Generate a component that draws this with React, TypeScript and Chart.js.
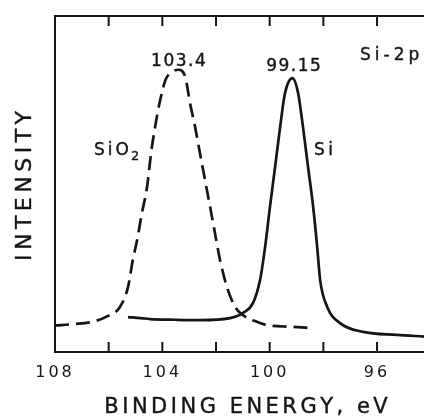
import { useEffect, useRef } from 'react';
import { Chart, registerables } from 'chart.js';

Chart.register(...registerables);

// Si-2p photoelectron spectrum: oxide (dashed) and elemental silicon (solid)
const siO2Energy = [108.0, 107.3, 106.6, 106.06, 105.58, 105.28, 105.1, 104.94, 104.76, 104.57, 104.42, 104.27, 104.08, 103.88, 103.65, 103.4, 103.15, 102.97, 102.78, 102.6, 102.41, 102.22, 102.04, 101.85, 101.59, 101.29, 101.0, 100.55, 100.1, 99.2, 98.38];
const siO2Intensity = [7.9, 8.3, 9.0, 10.6, 13.4, 19.3, 27.4, 33.3, 41.4, 49.1, 59.2, 67, 75, 81, 83.3, 84, 82, 74.1, 67, 59.2, 51.2, 43.2, 35.4, 27.4, 19.3, 13.4, 11.0, 9.2, 8.0, 7.5, 7.1];

const siEnergy = [105.28, 104.8, 104.46, 103.5, 102.6, 101.48, 101.0, 100.62, 100.36, 100.17, 99.99, 99.8, 99.61, 99.43, 99.15, 98.94, 98.76, 98.57, 98.38, 98.23, 98.12, 97.86, 97.38, 96.52, 95.25, 94.25];
const siIntensity = [10.4, 10.1, 9.8, 9.6, 9.5, 10.1, 11.6, 14.6, 21.4, 31.3, 43.2, 55, 67, 77, 81.5, 77, 67, 55, 43.2, 31.3, 21.4, 13.5, 8.6, 6.0, 5.1, 4.6];

const siO2Peak = 103.4;
const siPeak = 99.15;

const xTickValues = [108, 106, 104, 102, 100, 98, 96];
const xTickLabels = ['108', '', '104', '', '100', '', '96'];
const baselineMark = 8;

const xTitle = 'BINDING ENERGY, eV';
const yTitle = 'INTENSITY';
const coreLevel = 'Si-2p';
const siO2Name = 'SiO';
const siO2Sub = '2';
const siName = 'Si';

const INK = '#151515';
const FONT = '"DejaVu Sans", "Noto Sans", sans-serif';

function drawSpaced(
  ctx: CanvasRenderingContext2D,
  text: string,
  x: number,
  baseline: number,
  size: number,
  spacing: number,
  align: 'left' | 'center'
): number {
  ctx.font = `${size}px ${FONT}`;
  const chars = [...text];
  const widths = chars.map((c) => ctx.measureText(c).width);
  const total = widths.reduce((a, b) => a + b, 0) + spacing * (chars.length - 1);
  let cx = align === 'center' ? x - total / 2 : x;
  ctx.textAlign = 'left';
  ctx.textBaseline = 'alphabetic';
  chars.forEach((c, i) => {
    ctx.fillText(c, cx, baseline);
    ctx.strokeText(c, cx, baseline);
    cx += widths[i] + spacing;
  });
  return cx;
}

// baseline that puts the middle of capital letters at y
const capMid = (y: number, size: number) => y + size * 0.365;

const frameAndTicks = {
  id: 'frameAndTicks',
  afterDraw(chart: any) {
    const ctx = chart.ctx;
    const x = chart.scales.x;
    const y = chart.scales.y;
    const { left, top, right, bottom } = chart.chartArea;
    ctx.save();
    ctx.fillStyle = INK;
    // inward tick marks on top and bottom edges
    for (let i = 1; i < xTickValues.length; i++) {
      const px = x.getPixelForValue(xTickValues[i]);
      ctx.fillRect(px - 1, bottom - 10, 2, 10);
      ctx.fillRect(px - 1, top, 2, 10);
    }
    // zero-level mark on the intensity axis
    const py = y.getPixelForValue(baselineMark);
    ctx.fillRect(left, py - 1, 7, 2);
    // frame, open on the right
    ctx.fillRect(left - 1, top - 1, right - left + 3, 2);
    ctx.fillRect(left - 1, top - 1, 2, bottom - top + 2);
    ctx.fillRect(left - 1, bottom - 1, right - left + 3, 2);
    ctx.restore();
  },
};

const labels = {
  id: 'labels',
  beforeDraw(chart: any) {
    chart.ctx.letterSpacing = '3px';
  },
  afterDraw(chart: any) {
    const ctx = chart.ctx;
    const x = chart.scales.x;
    ctx.save();
    ctx.letterSpacing = '0px';
    ctx.fillStyle = INK;
    ctx.strokeStyle = INK;
    ctx.lineWidth = 0.4;

    // peak positions
    drawSpaced(ctx, String(siO2Peak), x.getPixelForValue(siO2Peak), capMid(60, 17), 17, 1.5, 'center');
    drawSpaced(ctx, String(siPeak), x.getPixelForValue(siPeak) + 1, capMid(64.5, 17), 17, 1.5, 'center');

    // curve names
    drawSpaced(ctx, coreLevel, 360, capMid(53.5, 17), 17, 4, 'left');
    const end = drawSpaced(ctx, siO2Name, 94, capMid(148.5, 17), 17, 3, 'left');
    drawSpaced(ctx, siO2Sub, end - 1, capMid(155.5, 13), 13, 0, 'left');
    drawSpaced(ctx, siName, 314, capMid(148.5, 17), 17, 3.5, 'left');

    // axis titles
    drawSpaced(ctx, xTitle, 246, capMid(405, 21), 21, 3.5, 'center');
    ctx.translate(23, 186);
    ctx.rotate(-Math.PI / 2);
    drawSpaced(ctx, yTitle, 0, capMid(0, 22), 22, 4.5, 'center');

    ctx.restore();
  },
};

export default function App() {
  const ref = useRef<HTMLCanvasElement>(null);

  useEffect(() => {
    if (!ref.current) return;
    const chart = new Chart(ref.current, {
      type: 'line',
      data: {
        datasets: [
          {
            label: 'SiO2',
            data: siO2Energy.map((e, i) => ({ x: e, y: siO2Intensity[i] })),
            borderColor: INK,
            borderWidth: 2.7,
            borderDash: [14, 7],
            pointRadius: 0,
            fill: false,
            cubicInterpolationMode: 'monotone',
          },
          {
            label: 'Si',
            data: siEnergy.map((e, i) => ({ x: e, y: siIntensity[i] })),
            borderColor: INK,
            borderWidth: 2.7,
            pointRadius: 0,
            fill: false,
            cubicInterpolationMode: 'monotone',
          },
        ],
      },
      options: {
        animation: false,
        responsive: true,
        maintainAspectRatio: false,
        layout: { padding: { left: 55, top: 16, right: 0, bottom: 0 } },
        plugins: { legend: { display: false }, tooltip: { enabled: false } },
        scales: {
          x: {
            type: 'linear',
            reverse: true,
            min: 94.25,
            max: 108,
            grid: { display: false },
            border: { display: false },
            afterBuildTicks: (scale: any) => {
              scale.ticks = xTickValues.map((v) => ({ value: v }));
            },
            afterFit: (scale: any) => {
              scale.height = 67;
            },
            ticks: {
              autoSkip: false,
              maxRotation: 0,
              padding: 3,
              color: INK,
              font: { family: FONT, size: 16 },
              callback: (_v: any, i: number) => xTickLabels[i],
            },
          },
          y: { display: false, min: 0, max: 100 },
        },
      },
      plugins: [frameAndTicks, labels],
    });
    return () => chart.destroy();
  }, []);

  return (
    <div style={{ position: 'fixed', left: 0, top: 0, width: 424, height: 419, background: '#fff' }}>
      <canvas ref={ref} />
    </div>
  );
}
